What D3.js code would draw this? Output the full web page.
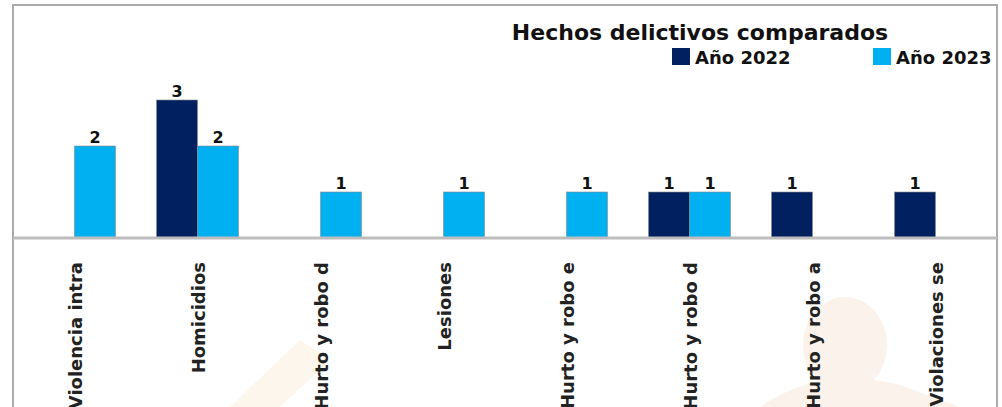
<!DOCTYPE html>
<html>
<head>
<meta charset="utf-8">
<script src="https://cdn.jsdelivr.net/npm/d3@7"></script>
<style>
  html, body { margin: 0; padding: 0; background: #fff; }
  svg { display: block; font-family: "DejaVu Sans", Verdana, sans-serif; }
</style>
</head>
<body>
<svg id="chart" width="1002" height="407"></svg>
<script>
const categories = [
  "Violencia intrafamiliar",
  "Homicidios",
  "Hurto y robo de vehículos",
  "Lesiones",
  "Hurto y robo en vivienda",
  "Hurto y robo de comercio",
  "Hurto y robo a personas",
  "Violaciones sexuales"
];
const shownLabels = [
  "Violencia intra",
  "Homicidios",
  "Hurto y robo d",
  "Lesiones",
  "Hurto y robo e",
  "Hurto y robo d",
  "Hurto y robo a",
  "Violaciones se"
];
const seriesNames = ["Año 2022", "Año 2023"];
const values2022 = [0, 3, 0, 0, 0, 1, 1, 1];
const values2023 = [2, 2, 1, 1, 1, 1, 0, 0];
const colors = ["#002060", "#00b0f0"];

const width = 1002;
const height = 407;
const frameLeft = 13, frameRight = 997, frameTop = 5;
const baseline = 238;

const svg = d3.select("#chart");

// faint watermark in the background
const wm = svg.append("g").attr("opacity", 0.28);
wm.append("ellipse").attr("cx", 845).attr("cy", 345).attr("rx", 42).attr("ry", 48).attr("fill", "#f3d6b8");
wm.append("path").attr("d", "M760,407 Q820,365 900,385 L960,407 Z").attr("fill", "#f3d6b8");
wm.append("path").attr("d", "M230,407 L300,340 L330,360 L280,407 Z").attr("fill", "#f3dfc0");

// frame
svg.append("path")
  .attr("d", `M${frameLeft},${height} V${frameTop} H${frameRight} V${height}`)
  .attr("fill", "none")
  .attr("stroke", "#aaa")
  .attr("stroke-width", 2);

const x0 = d3.scaleBand()
  .domain(d3.range(categories.length))
  .range([frameLeft, frameRight])
  .paddingInner(1 / 3)
  .paddingOuter(1 / 6);

const x1 = d3.scaleBand()
  .domain(d3.range(seriesNames.length))
  .range([0, x0.bandwidth()]);

const y = d3.scaleLinear().domain([0, 3]).range([baseline, 100]);

const rows = categories.map((c, i) => ({ i, vals: [values2022[i], values2023[i]] }));

const groups = svg.append("g").selectAll("g")
  .data(rows)
  .join("g")
  .attr("transform", d => `translate(${x0(d.i)},0)`);

const cells = groups.selectAll("g")
  .data(d => d.vals.map((v, s) => ({ v, s })).filter(e => e.v > 0))
  .join("g");

cells.append("rect")
  .attr("x", d => x1(d.s))
  .attr("y", d => y(d.v))
  .attr("width", x1.bandwidth())
  .attr("height", d => baseline - y(d.v))
  .attr("fill", d => colors[d.s])
  .attr("stroke", "#8a8a8a")
  .attr("stroke-width", 0.6);

cells.append("text")
  .attr("x", d => x1(d.s) + x1.bandwidth() / 2)
  .attr("y", d => y(d.v) - 3)
  .attr("text-anchor", "middle")
  .attr("font-size", 16)
  .attr("font-weight", "bold")
  .attr("fill", "#111")
  .text(d => d.v);

// x axis line
svg.append("line")
  .attr("x1", frameLeft).attr("x2", frameRight)
  .attr("y1", baseline).attr("y2", baseline)
  .attr("stroke", "#bdbdbd")
  .attr("stroke-width", 3);

// category labels (rotated, truncated as in the original)
svg.append("g").selectAll("text")
  .data(shownLabels)
  .join("text")
  .attr("transform", (d, i) => `translate(${x0(i) + x0.bandwidth() / 2 + 7},262) rotate(-90)`)
  .attr("text-anchor", "end")
  .attr("font-size", 18)
  .attr("font-weight", "bold")
  .attr("fill", "#222")
  .text(d => d);

// title
svg.append("text")
  .attr("x", 700)
  .attr("y", 40)
  .attr("text-anchor", "middle")
  .attr("font-size", 22)
  .attr("font-weight", "bold")
  .attr("fill", "#111")
  .text("Hechos delictivos comparados");

// legend
const legend = svg.append("g").selectAll("g")
  .data(seriesNames)
  .join("g")
  .attr("transform", (d, i) => `translate(${672 + i * 201},48)`);

legend.append("rect")
  .attr("width", 18).attr("height", 17)
  .attr("fill", (d, i) => colors[i]);

legend.append("text")
  .attr("x", 23)
  .attr("y", 16)
  .attr("font-size", 18)
  .attr("font-weight", "bold")
  .attr("fill", "#111")
  .text(d => d);
</script>
</body>
</html>
